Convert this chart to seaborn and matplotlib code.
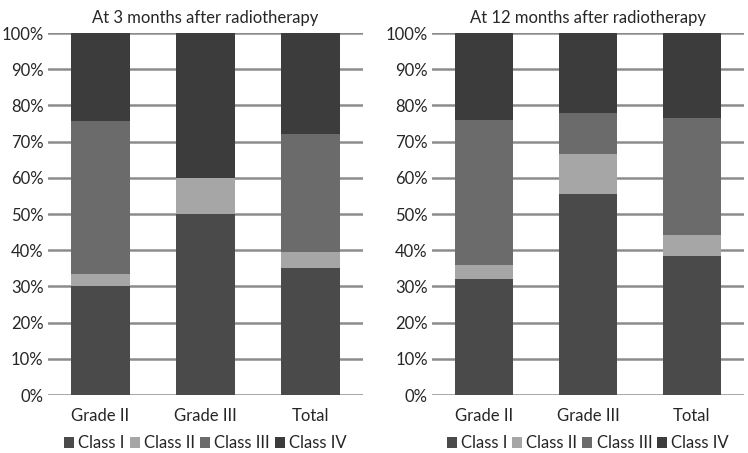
import matplotlib
matplotlib.use("Agg")
import matplotlib.pyplot as plt
import pandas as pd
import seaborn as sns
from matplotlib.patches import Patch

# Data (percent of patients per class)
grades = ["Grade II", "Grade III", "Total"]
classes = ["Class I", "Class II", "Class III", "Class IV"]
colors = ["#4a4a4a", "#a6a6a6", "#6b6b6b", "#3c3c3c"]

m3_class1 = [30.0, 50.0, 35.0]
m3_class2 = [3.3, 10.0, 4.6]
m3_class3 = [42.4, 0.0, 32.4]
m3_class4 = [24.3, 40.0, 28.0]

m12_class1 = [32.0, 55.6, 38.3]
m12_class2 = [4.0, 11.1, 5.8]
m12_class3 = [40.0, 11.1, 32.4]
m12_class4 = [24.0, 22.2, 23.5]

titles = ["At 3 months after radiotherapy", "At 12 months after radiotherapy"]

sns.set_style("white")
plt.rcParams["font.family"] = ["Lato", "DejaVu Sans"]

fig = plt.figure(figsize=(7.48, 4.53), dpi=100)
ax1 = fig.add_axes([0.064, 0.128, 0.421, 0.799])
ax2 = fig.add_axes([0.5775, 0.128, 0.417, 0.799])


def draw_panel(ax, series, title):
    df = pd.DataFrame({"grade": grades})
    for name, vals in zip(classes, series):
        df[name] = vals
    # cumulative stacks, drawn from the top segment down
    cum = df[classes].cumsum(axis=1)
    for name, col in reversed(list(zip(classes, colors))):
        sns.barplot(x=df["grade"], y=cum[name], color=col, width=0.56,
                    saturation=1, ax=ax, zorder=3, linewidth=0)
    ax.set_ylim(0, 100)
    ax.set_yticks(range(0, 101, 10))
    ax.set_yticklabels([f"{v}%" for v in range(0, 101, 10)])
    ax.yaxis.grid(True, color="#8c8c8c", linewidth=1.8, zorder=0)
    ax.set_axisbelow(True)
    for s in ax.spines.values():
        s.set_visible(False)
    ax.tick_params(axis="both", length=0, labelsize=12, labelcolor="#262626")
    ax.tick_params(axis="x", pad=9)
    ax.tick_params(axis="y", pad=3)
    ax.set_xlabel("")
    ax.set_ylabel("")
    ax.set_title(title, fontsize=12, color="#262626", pad=7)
    handles = [Patch(facecolor=c, edgecolor="none", label=n) for n, c in zip(classes, colors)]
    ax.legend(handles=handles, loc="center", bbox_to_anchor=(0.5, -0.133),
              ncol=4, frameon=False, fontsize=12, handlelength=0.6,
              handleheight=0.6, handletextpad=0.25, columnspacing=0.3,
              labelcolor="#262626", borderpad=0)


draw_panel(ax1, [m3_class1, m3_class2, m3_class3, m3_class4], titles[0])
draw_panel(ax2, [m12_class1, m12_class2, m12_class3, m12_class4], titles[1])

fig.savefig("out.png", dpi=100)
